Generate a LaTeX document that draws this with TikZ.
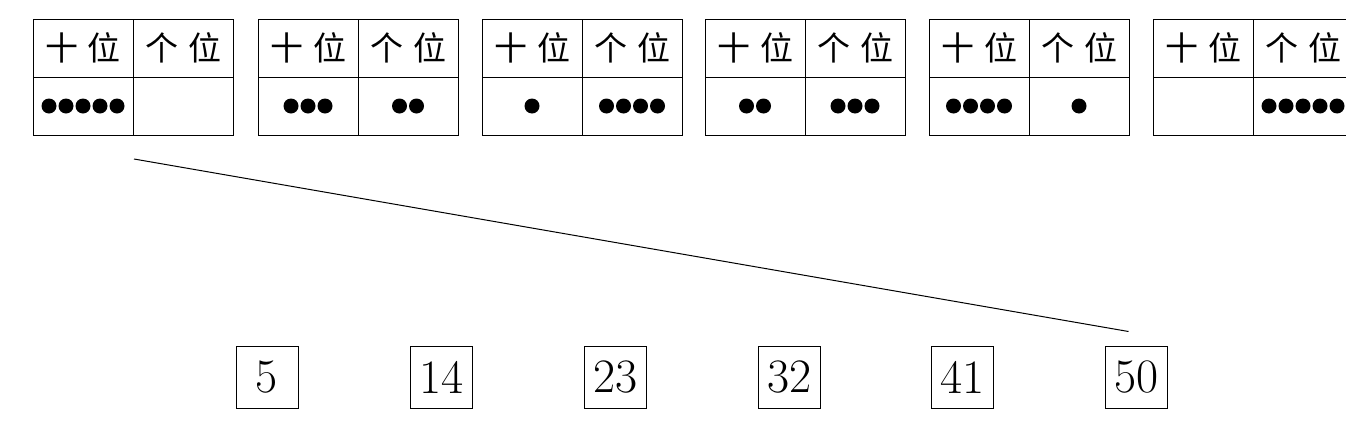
\documentclass[tikz,border=0pt]{standalone}
\usepackage{fontspec}
\newfontfamily\cjk{Noto Sans CJK SC}
\usetikzlibrary{positioning}
\tikzset{
  cell/.style={draw, line width=1pt, minimum width=100pt, minimum height=58pt,
    inner sep=0pt, outer sep=0pt},
  head/.style={cell, font=\cjk\fontsize{33}{38}\selectfont},
  numbox/.style={draw, line width=1pt, minimum size=62pt, inner sep=0pt,
    font=\fontsize{48}{52}\selectfont}
}
\newcommand{\dotrow}[2]{\foreach \k in {1,...,#2}{\fill ([xshift={(\k-(#2+1)/2)*17pt}]#1.center) circle (7.5pt);}}
\begin{document}
\begin{tikzpicture}[x=1pt,y=-1pt]
\useasboundingbox (0,0) rectangle (1346,426);
\clip (0,0) rectangle (1346,426);
\node[head,anchor=north west] (h1a) at (33,19) {十\hspace{10pt}位};
\node[head,right=0pt of h1a] (h1b) {个\hspace{10pt}位};
\node[cell,below=0pt of h1a] (d1a) {};
\node[cell,below=0pt of h1b] (d1b) {};
\node[head,anchor=north west] (h2a) at (258,19) {十\hspace{10pt}位};
\node[head,right=0pt of h2a] (h2b) {个\hspace{10pt}位};
\node[cell,below=0pt of h2a] (d2a) {};
\node[cell,below=0pt of h2b] (d2b) {};
\node[head,anchor=north west] (h3a) at (482,19) {十\hspace{10pt}位};
\node[head,right=0pt of h3a] (h3b) {个\hspace{10pt}位};
\node[cell,below=0pt of h3a] (d3a) {};
\node[cell,below=0pt of h3b] (d3b) {};
\node[head,anchor=north west] (h4a) at (705,19) {十\hspace{10pt}位};
\node[head,right=0pt of h4a] (h4b) {个\hspace{10pt}位};
\node[cell,below=0pt of h4a] (d4a) {};
\node[cell,below=0pt of h4b] (d4b) {};
\node[head,anchor=north west] (h5a) at (929,19) {十\hspace{10pt}位};
\node[head,right=0pt of h5a] (h5b) {个\hspace{10pt}位};
\node[cell,below=0pt of h5a] (d5a) {};
\node[cell,below=0pt of h5b] (d5b) {};
\node[head,anchor=north west] (h6a) at (1153,19) {十\hspace{10pt}位};
\node[head,right=0pt of h6a] (h6b) {个\hspace{10pt}位};
\node[cell,below=0pt of h6a] (d6a) {};
\node[cell,below=0pt of h6b] (d6b) {};
\dotrow{d1a}{5}
\dotrow{d2a}{3}
\dotrow{d2b}{2}
\dotrow{d3a}{1}
\dotrow{d3b}{4}
\dotrow{d4a}{2}
\dotrow{d4b}{3}
\dotrow{d5a}{4}
\dotrow{d5b}{1}
\dotrow{d6b}{5}
\node[numbox] (n5) at (267,377) {5};
\node[numbox] (n14) at (441.5,377) {14};
\node[numbox] (n23) at (615.5,377) {23};
\node[numbox] (n32) at (789.5,377) {32};
\node[numbox] (n41) at (962.5,377) {41};
\node[numbox] (n50) at (1136.5,377) {50};
\draw[line width=1pt] ([shift={(1pt,-24pt)}]d1a.south east) -- ([shift={(-8pt,14pt)}]n50.north);
\end{tikzpicture}
\end{document}
